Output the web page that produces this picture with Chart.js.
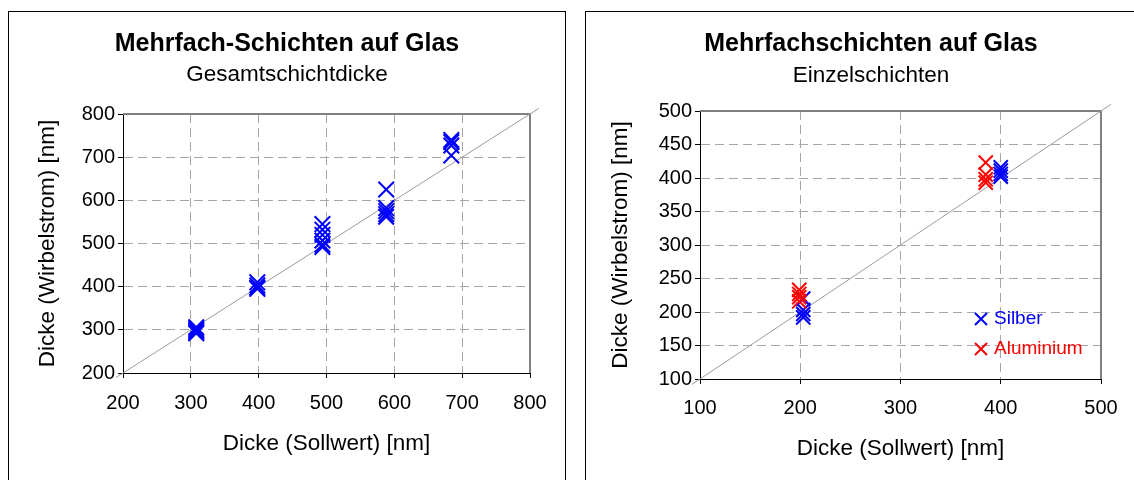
<!DOCTYPE html>
<html>
<head>
<meta charset="utf-8">
<title>Mehrfachschichten auf Glas</title>
<script src="https://cdn.jsdelivr.net/npm/chart.js@4/dist/chart.umd.min.js"></script>
<style>
  body { margin: 0; background: #fff; overflow: hidden; }
  .box { position: absolute; top: 11px; border: 1px solid #000; background: #fff; }
  #box-gesamt { left: 8px; }
  #box-einzel { left: 585px; }
  canvas { display: block; }
</style>
</head>
<body>
<div class="box" id="box-gesamt"><canvas id="chart-gesamt" width="556" height="480"></canvas></div>
<div class="box" id="box-einzel"><canvas id="chart-einzel" width="570" height="480"></canvas></div>
<script>
/* Gesamtschichtdicke (left chart), one series */
let gesamtSoll   = [308, 308, 308, 308, 308, 398, 398, 398, 398, 494, 494, 494, 494, 494, 494, 588, 588, 588, 588, 588, 684, 684, 684, 684]
let gesamtWirbel = [306, 302, 298, 295, 292, 410, 403, 398, 395, 545, 532, 520, 507, 497, 492, 625, 582, 575, 568, 562, 740, 735, 727, 704]

/* Einzelschichten (right chart) */
let silberSoll   = [203, 203, 203, 203, 400, 400, 400, 400]
let silberWirbel = [220, 203, 197, 192, 416, 411, 406, 402]
let aluSoll      = [199, 199, 199, 199, 385, 385, 385, 385]
let aluWirbel    = [233, 227, 222, 216, 423, 405, 398, 393]

// y = x reference line, runs a little past the plot area like in the original
let diagGesamt = [190, 813]
let diagEinzel = [92, 510]

// tick labels
let gesamtTicks = [200, 300, 400, 500, 600, 700, 800]
let einzelTicksX = [100, 200, 300, 400, 500]
let einzelTicksY = [100, 150, 200, 250, 300, 350, 400, 450, 500]

Chart.defaults.font.family = '"Liberation Sans", Arial, sans-serif'
Chart.defaults.color = '#000'

function toPoints(xs, ys) {
    return xs.map((x, i) => ({ x: x, y: ys[i] }))
}

// gray frame on top and right of the plot area (Excel style)
let plotFrame = {
    id: 'plotFrame',
    beforeDatasetsDraw(chart) {
        let a = chart.chartArea
        let ctx = chart.ctx
        ctx.save()
        ctx.strokeStyle = '#808080'
        ctx.lineWidth = 2
        ctx.beginPath()
        ctx.moveTo(a.left, a.top)
        ctx.lineTo(a.right, a.top)
        ctx.lineTo(a.right, a.bottom)
        ctx.stroke()
        ctx.restore()
    }
}

// small legend inside the plot area, text in series colour
let innerLegend = {
    id: 'innerLegend',
    afterDatasetsDraw(chart) {
        let a = chart.chartArea
        let ctx = chart.ctx
        let items = chart.data.datasets.filter(d => d.legendOrder !== undefined)
        items.sort((p, q) => p.legendOrder - q.legendOrder)
        ctx.save()
        items.forEach((d, i) => {
            let cx = a.left + 281
            let cy = a.top + 208 + i * 30
            ctx.strokeStyle = d.borderColor
            ctx.lineWidth = 2
            ctx.beginPath()
            ctx.moveTo(cx - 6, cy - 6); ctx.lineTo(cx + 6, cy + 6)
            ctx.moveTo(cx - 6, cy + 6); ctx.lineTo(cx + 6, cy - 6)
            ctx.stroke()
            ctx.fillStyle = d.borderColor
            ctx.font = '19px "Liberation Sans", Arial, sans-serif'
            ctx.textBaseline = 'middle'
            ctx.fillText(d.label, cx + 13, cy)
        })
        ctx.restore()
    }
}

function markerSet(label, xs, ys, color, radius) {
    return {
        label: label,
        data: toPoints(xs, ys),
        borderColor: color,
        backgroundColor: color,
        pointStyle: 'crossRot',
        pointRadius: radius,
        pointBorderWidth: 2,
        showLine: false
    }
}

function diagonalSet(ends) {
    return {
        type: 'line',
        label: 'y = x',
        data: toPoints(ends, ends),
        borderColor: '#9a9a9a',
        borderWidth: 1,
        pointRadius: 0,
        clip: false
    }
}

function axis(ticks, title, tickPad, titlePad, fit) {
    return {
        type: 'linear',
        min: ticks[0],
        max: ticks[ticks.length - 1],
        ticks: { stepSize: ticks[1] - ticks[0], padding: tickPad, font: { size: 20 } },
        grid: { color: '#a6a6a6', lineWidth: 1, tickLength: 5, tickColor: '#000' },
        border: { color: '#000', width: 1, dash: [9, 5] },
        title: { display: true, text: title, font: { size: 22.5 }, padding: titlePad },
        afterFit: fit
    }
}

function makeChart(canvasId, cfg) {
    let ctx = document.querySelector(canvasId).getContext('2d')
    return new Chart(ctx, {
        type: 'scatter',
        data: { datasets: cfg.datasets },
        options: {
            responsive: false,
            animation: false,
            events: [],
            plugins: {
                legend: { display: false },
                tooltip: { enabled: false },
                title: {
                    display: true, text: cfg.title, color: '#000',
                    font: { size: 25, weight: 'bold' },
                    padding: { top: 17, bottom: 0 }
                },
                subtitle: {
                    display: true, text: cfg.subtitle, color: '#000',
                    font: { size: 22.5 },
                    padding: cfg.subPad
                }
            },
            scales: {
                x: axis(cfg.ticksX, 'Dicke (Sollwert) [nm]', cfg.xTickPad, { top: 0, bottom: cfg.xTitlePad },
                        s => { s.height = cfg.xHeight }),
                y: axis(cfg.ticksY, 'Dicke (Wirbelstrom) [nm]', 3, { top: cfg.yTitlePad, bottom: 0 },
                        s => { s.width = 114 }),
                // empty axis on the right, only keeps room so the titles stay centred on the whole box
                spacer: {
                    type: 'linear', position: 'right', display: true,
                    ticks: { display: false },
                    grid: { display: false },
                    border: { display: false },
                    afterFit: s => { s.width = cfg.rightPad }
                }
            }
        },
        plugins: cfg.plugins
    })
}

// left chart
makeChart('#chart-gesamt', {
    title: 'Mehrfach-Schichten auf Glas',
    subtitle: 'Gesamtschichtdicke',
    datasets: [
        markerSet('Gesamt', gesamtSoll, gesamtWirbel, '#0000ff', 11),
        diagonalSet(diagGesamt)
    ],
    ticksX: gesamtTicks,
    ticksY: gesamtTicks,
    rightPad: 35,
    subPad: { top: 2.5, bottom: 25.5 },
    xTickPad: 13,
    xTitlePad: 34.5,
    xHeight: 119,
    yTitlePad: 25.5,
    plugins: [plotFrame]
})

// right chart
let silberSet = markerSet('Silber', silberSoll, silberWirbel, '#0000ff', 10)
silberSet.legendOrder = 0
let aluSet = markerSet('Aluminium', aluSoll, aluWirbel, '#ff0000', 10)
aluSet.legendOrder = 1

makeChart('#chart-einzel', {
    title: 'Mehrfachschichten auf Glas',
    subtitle: 'Einzelschichten',
    datasets: [aluSet, silberSet, diagonalSet(diagEinzel)],
    ticksX: einzelTicksX,
    ticksY: einzelTicksY,
    rightPad: 55,
    subPad: { top: 3.5, bottom: 21.5 },
    xTickPad: 12,
    xTitlePad: 29.5,
    xHeight: 113,
    yTitlePad: 21.5,
    plugins: [plotFrame, innerLegend]
})
</script>
</body>
</html>
